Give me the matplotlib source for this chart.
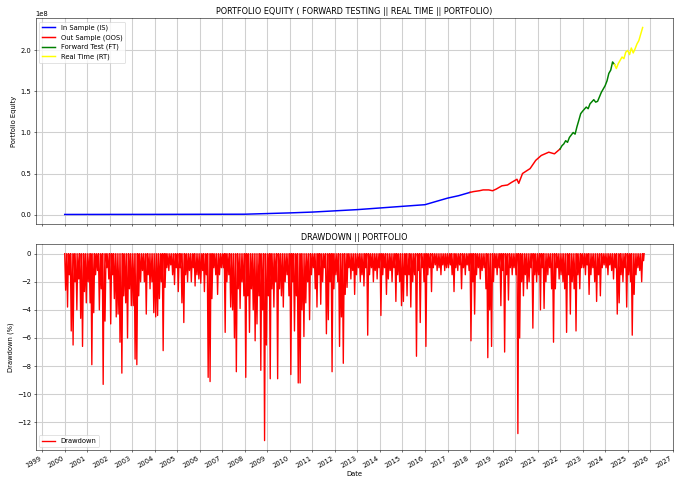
import matplotlib
matplotlib.use("Agg")
import matplotlib.pyplot as plt
import matplotlib.dates as mdates
import numpy as np
import pandas as pd

# equity curve (dollars), one list per phase
is_dates = ["2000-01", "2002-01", "2004-01", "2006-01", "2008-01", "2009-01", "2010-01",
            "2011-01", "2012-01", "2013-01", "2014-01", "2015-01", "2016-01", "2016-07",
            "2017-01", "2017-07", "2018-01"]
is_vals = [0.10e6, 0.15e6, 0.20e6, 0.30e6, 0.40e6, 1.2e6, 2.0e6,
           3.0e6, 4.5e6, 6.0e6, 8.0e6, 10.0e6, 12.0e6, 16.0e6,
           20.0e6, 23.0e6, 27.0e6]

oos_dates = ["2018-01", "2018-03", "2018-06", "2018-08", "2018-11", "2019-01", "2019-03",
             "2019-06", "2019-09", "2019-11", "2020-02", "2020-03", "2020-05", "2020-07",
             "2020-09", "2020-12", "2021-03", "2021-05", "2021-07", "2021-10", "2022-01"]
oos_vals = [27.0e6, 28.0e6, 29.0e6, 30.0e6, 30.0e6, 29.0e6, 31.0e6,
            35.0e6, 36.0e6, 39.0e6, 43.0e6, 38.0e6, 50.0e6, 53.0e6,
            56.0e6, 66.0e6, 72.0e6, 74.0e6, 76.0e6, 74.0e6, 80.0e6]

ft_dates = ["2022-01", "2022-02", "2022-03", "2022-04", "2022-05", "2022-06", "2022-08",
            "2022-09", "2022-10", "2022-11", "2022-12", "2023-01", "2023-03", "2023-04",
            "2023-05", "2023-07", "2023-08", "2023-09", "2023-11", "2024-01", "2024-02",
            "2024-03", "2024-04", "2024-05", "2024-06"]
ft_vals = [80.0e6, 84.0e6, 86.0e6, 90.0e6, 88.0e6, 94.0e6, 100.0e6,
           98.0e6, 107.0e6, 115.0e6, 123.0e6, 126.0e6, 131.0e6, 129.0e6,
           135.0e6, 140.0e6, 137.0e6, 138.0e6, 149.0e6, 157.0e6, 163.0e6,
           172.0e6, 176.0e6, 186.0e6, 183.0e6]

rt_dates = ["2024-06", "2024-07", "2024-08", "2024-09", "2024-10", "2024-11", "2024-12",
            "2025-01", "2025-02", "2025-03", "2025-04", "2025-05", "2025-06", "2025-07",
            "2025-08", "2025-09"]
rt_vals = [183.0e6, 178.0e6, 184.0e6, 188.0e6, 192.0e6, 190.0e6, 198.0e6,
           200.0e6, 195.0e6, 203.0e6, 197.0e6, 202.0e6, 208.0e6, 212.0e6,
           220.0e6, 228.0e6]

# monthly drawdown troughs in % (curve goes back to the high between troughs)
dd_years = list(range(2000, 2026))
dd_troughs = [
    [2.6, 3.8, 1.5, 5.5, 6.5, 2.0, 4.0, 1.8, 4.6, 6.6, 2.7, 3.5],   # 2000
    [2.0, 3.5, 7.9, 4.2, 1.5, 1.2, 4.0, 2.5, 9.3, 4.8, 1.0, 1.8],   # 2001
    [5.0, 1.5, 3.2, 4.5, 4.3, 6.3, 8.5, 3.0, 3.5, 6.0, 2.5, 3.7],   # 2002
    [3.7, 7.5, 7.9, 3.0, 2.0, 1.2, 2.0, 4.3, 1.5, 2.5, 2.0, 4.2],   # 2003
    [4.5, 4.4, 3.2, 2.0, 6.9, 2.4, 1.0, 1.2, 0.8, 1.5, 2.2, 1.0],   # 2004
    [2.7, 1.0, 3.5, 4.9, 1.5, 2.0, 1.2, 2.0, 1.0, 2.3, 1.5, 1.8],   # 2005
    [2.1, 1.2, 2.7, 1.5, 8.8, 9.1, 3.2, 1.0, 1.5, 2.9, 1.5, 1.0],   # 2006
    [1.0, 5.6, 2.0, 1.5, 3.8, 4.0, 6.0, 8.4, 2.5, 3.9, 2.0, 3.0],   # 2007
    [8.8, 3.0, 5.6, 2.5, 4.0, 6.2, 5.0, 3.0, 8.3, 4.0, 13.3, 6.5],  # 2008
    [3.0, 8.9, 2.5, 3.8, 2.0, 8.9, 2.5, 3.0, 3.8, 2.0, 1.5, 3.0],   # 2009
    [8.6, 2.0, 5.5, 3.0, 9.2, 9.2, 4.0, 5.9, 3.5, 2.0, 4.7, 1.5],   # 2010
    [1.0, 2.5, 3.8, 1.5, 3.6, 2.0, 1.0, 5.7, 4.7, 2.0, 8.4, 2.5],   # 2011
    [1.5, 2.0, 6.6, 4.5, 7.8, 2.9, 2.4, 1.0, 1.8, 1.2, 2.9, 1.5],   # 2012
    [1.0, 2.0, 1.5, 2.3, 1.0, 5.8, 1.5, 1.0, 2.0, 1.2, 1.8, 1.0],   # 2013
    [4.4, 1.5, 1.0, 2.9, 1.8, 1.2, 2.0, 1.0, 3.4, 1.5, 2.0, 3.7],   # 2014
    [3.4, 1.5, 3.0, 1.5, 3.8, 2.0, 1.5, 7.3, 1.2, 4.9, 1.0, 2.0],   # 2015
    [6.6, 1.5, 1.0, 2.7, 1.0, 0.8, 1.2, 1.0, 1.5, 0.8, 1.2, 1.0],   # 2016
    [1.0, 0.8, 1.5, 2.7, 1.0, 1.2, 0.8, 2.5, 1.0, 1.5, 0.8, 1.2],   # 2017
    [6.2, 2.0, 4.3, 1.5, 1.0, 1.8, 1.2, 1.0, 2.5, 7.4, 4.0, 6.6],   # 2018
    [2.0, 1.0, 1.5, 1.0, 3.7, 1.2, 7.0, 1.5, 3.3, 1.0, 1.5, 1.0],   # 2019
    [1.5, 12.8, 6.0, 2.0, 3.0, 1.5, 2.5, 2.0, 1.0, 5.3, 1.5, 2.0],  # 2020
    [1.5, 4.0, 1.0, 3.9, 2.0, 1.5, 1.0, 2.5, 6.3, 2.5, 1.0, 1.8],   # 2021
    [1.5, 2.0, 2.5, 5.6, 1.5, 4.3, 2.0, 2.5, 5.5, 1.5, 2.5, 1.0],   # 2022
    [1.0, 1.5, 0.8, 2.9, 1.5, 1.0, 2.0, 3.4, 1.5, 3.0, 1.0, 0.8],   # 2023
    [1.0, 1.5, 0.8, 1.2, 1.8, 1.0, 4.3, 3.5, 1.5, 2.0, 1.0, 3.8],   # 2024
    [1.5, 2.0, 5.8, 2.9, 1.5, 1.0, 1.2, 2.0, 0.5],                   # 2025
]

# build the drawdown line: 0 at month start, trough mid-month
dd_x = []
dd_y = []
for yr, row in zip(dd_years, dd_troughs):
    for m, d in enumerate(row):
        start = pd.Timestamp(year=yr, month=m + 1, day=1)
        dd_x.append(start)
        dd_y.append(0.0)
        dd_x.append(start + pd.Timedelta(days=15))
        dd_y.append(-d)
dd_x.append(pd.Timestamp("2025-09-25"))
dd_y.append(0.0)

fig, (ax1, ax2) = plt.subplots(2, 1, figsize=(14, 10), sharex=True)

lw = 2.2
ax1.plot(pd.to_datetime(is_dates), is_vals, color="blue", lw=lw, label="In Sample (IS)")
ax1.plot(pd.to_datetime(oos_dates), oos_vals, color="red", lw=lw, label="Out Sample (OOS)")
ax1.plot(pd.to_datetime(ft_dates), ft_vals, color="green", lw=lw, label="Forward Test (FT)")
ax1.plot(pd.to_datetime(rt_dates), rt_vals, color="yellow", lw=lw, label="Real Time (RT)")
ax1.set_title("PORTFOLIO EQUITY ( FORWARD TESTING || REAL TIME || PORTFOLIO)")
ax1.set_ylabel("Portfolio Equity")
ax1.legend(loc="upper left")
ax1.grid(True, color="#d0d0d0", lw=1.6)

ax2.plot(dd_x, dd_y, color="red", lw=2.0, label="Drawdown")
ax2.set_title("DRAWDOWN || PORTFOLIO")
ax2.set_xlabel("Date")
ax2.set_ylabel("Drawdown (%)")
ax2.legend(loc="lower left")
ax2.grid(True, color="#d0d0d0", lw=1.6)

ax2.xaxis.set_major_locator(mdates.YearLocator())
ax2.xaxis.set_major_formatter(mdates.DateFormatter("%Y"))
fig.autofmt_xdate()

plt.tight_layout()
fig.savefig("out.png", dpi=48.6)
